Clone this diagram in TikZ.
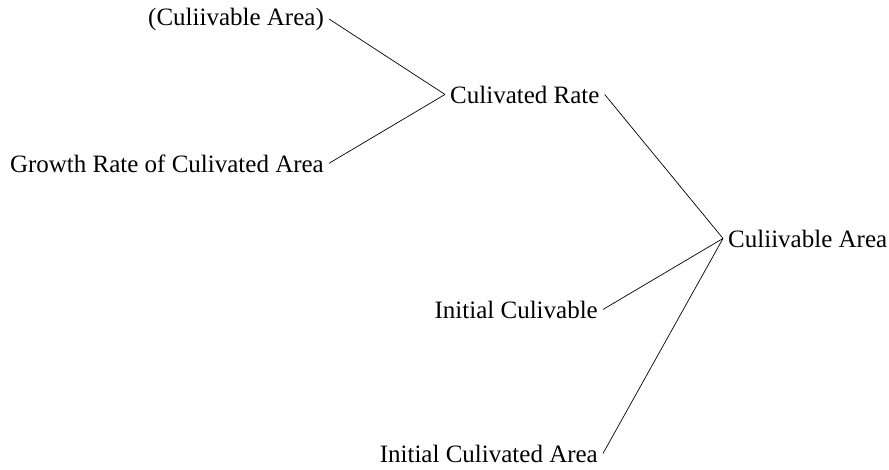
\documentclass[tikz,border=0pt]{standalone}
\usepackage{fontspec}
\setmainfont{Liberation Serif}
\usepackage{tikz}
\usetikzlibrary{arrows.meta}
\usetikzlibrary{calc,positioning}

\begin{document}
\begin{tikzpicture}[x=1pt, y=-1pt,
    var/.style={font=\fontsize{25}{30}\selectfont, inner xsep=5pt, inner ysep=0pt, text=black},
    leaf/.style={var, anchor=base east},
    root/.style={var, anchor=base west},
    link/.style={draw=black, line width=0.7pt}]
    \useasboundingbox (0,0) rectangle (889,469);

    % left branch
    \node (shadow) [leaf] at (329,25) {(Culiivable Area)};
    \node (growth) [leaf] at (329,172) {Growth Rate of Culivated Area};
    \node (rate) [root] at (445,103) {Culivated Rate};

    % right branch
    \node (area) [root] at (723,247) {Culiivable Area};
    \node (initcul) [leaf] at (603,318) {Initial Culivable};
    \node (initarea) [leaf] at (603,462) {Initial Culivated Area};

    \draw [link] (shadow.east) -- (rate.west);
    \draw [link] (growth.east) -- (rate.west);
    \draw [link] (rate.east) -- (area.west);
    \draw [link] (initcul.east) -- (area.west);
    \draw [link] (initarea.east) -- (area.west);
\end{tikzpicture}
\end{document}
